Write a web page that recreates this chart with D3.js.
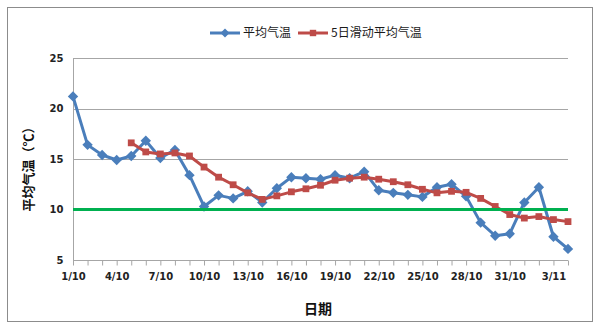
<!DOCTYPE html>
<html><head><meta charset="utf-8">
<script src="https://cdn.jsdelivr.net/npm/d3@7"></script>
<style>html,body{margin:0;padding:0;background:#fff;}svg{display:block;}</style>
</head><body>
<svg id="chart" width="600" height="328"></svg>
<script>
const categories = ["1/10","2/10","3/10","4/10","5/10","6/10","7/10","8/10","9/10","10/10","11/10","12/10","13/10","14/10","15/10","16/10","17/10","18/10","19/10","20/10","21/10","22/10","23/10","24/10","25/10","26/10","27/10","28/10","29/10","30/10","31/10","1/11","2/11","3/11","4/11"];
const avgTemp = [21.2,16.4,15.4,14.9,15.3,16.8,15.1,15.9,13.4,10.3,11.4,11.1,11.8,10.7,12.1,13.2,13.1,13.0,13.4,13.1,13.75,11.9,11.65,11.45,11.25,12.2,12.5,11.3,8.7,7.4,7.6,10.7,12.2,7.3,6.1];
const movingAvg = [null,null,null,null,16.6,15.7,15.5,15.6,15.3,14.2,13.2,12.45,11.65,11.0,11.35,11.75,12.05,12.4,12.9,13.1,13.2,13.0,12.75,12.45,12.0,11.65,11.8,11.7,11.1,10.3,9.5,9.15,9.3,9.0,8.8];
const threshold = 10;
const yTicks = [5,10,15,20,25];
const xTickLabels = categories.filter((d,i)=>i%3===0);
const seriesNames = ["平均气温","5日滑动平均气温"];
const yTitle = "平均气温（℃）";
const xTitle = "日期";

const svg = d3.select("#chart");
const blue = "#4A7EBB", red = "#BE4B48", green = "#00B050";
const tickFont = "'DejaVu Sans', Verdana, sans-serif";
const cjk = "'Noto Sans CJK SC', sans-serif";

svg.append("rect").attr("x",7.5).attr("y",7.5).attr("width",585).attr("height",314)
  .attr("fill","#fff").attr("stroke","#8c8c8c").attr("stroke-width",1);

const x = d3.scalePoint().domain(categories).range([73,568]);
const y = d3.scaleLinear().domain([5,25]).range([260,58]);

// gridlines
svg.append("g").selectAll("line").data(yTicks.filter(d=>d>5)).join("line")
  .attr("x1",73).attr("x2",568)
  .attr("y1",d=>Math.round(y(d))+0.5).attr("y2",d=>Math.round(y(d))+0.5)
  .attr("stroke","#a6a6a6").attr("stroke-width",1);

// y axis
const yAxis = svg.append("g").attr("transform","translate(73.5,0)")
  .call(d3.axisLeft(y).tickValues(yTicks).tickSize(0).tickPadding(10));
yAxis.select(".domain").attr("stroke","#a6a6a6").attr("d","M0,"+(y(25))+"V"+(Math.round(y(5))+0.5));
yAxis.selectAll("text").attr("font-family",tickFont).attr("font-weight","bold")
  .attr("font-size",10).attr("fill","#222");

// x axis
const xAxis = svg.append("g").attr("transform","translate(0,"+(Math.round(y(5))+0.5)+")")
  .call(d3.axisBottom(x).tickSize(5).tickPadding(7)
    .tickFormat(d=>xTickLabels.includes(d)?d:""));
xAxis.select(".domain").attr("stroke","#a6a6a6").attr("d","M73,0H568");
xAxis.selectAll(".tick line").attr("stroke","#a6a6a6");
xAxis.selectAll("text").attr("font-family",tickFont).attr("font-weight","bold")
  .attr("font-size",10).attr("fill","#222");

// lines
const line = d3.line().defined(d=>d.v!=null).x(d=>x(d.c)).y(d=>y(d.v));
const blueData = categories.map((c,i)=>({c,v:avgTemp[i]}));
const redData = categories.map((c,i)=>({c,v:movingAvg[i]}));

const diamond = s => `M0,${-s}L${s},0L0,${s}L${-s},0Z`;
const square = s => `M${-s},${-s}H${s}V${s}H${-s}Z`;

svg.append("path").datum(blueData).attr("d",line).attr("fill","none")
  .attr("stroke",blue).attr("stroke-width",3).attr("stroke-linejoin","round");
svg.append("g").selectAll("path").data(blueData).join("path")
  .attr("transform",d=>`translate(${x(d.c)},${y(d.v)})`).attr("d",diamond(5.2)).attr("fill",blue);

svg.append("path").datum(redData).attr("d",line).attr("fill","none")
  .attr("stroke",red).attr("stroke-width",3).attr("stroke-linejoin","round");
svg.append("g").selectAll("path").data(redData.filter(d=>d.v!=null)).join("path")
  .attr("transform",d=>`translate(${x(d.c)},${y(d.v)})`).attr("d",square(3.4)).attr("fill",red);

// threshold line
svg.append("line").attr("x1",73).attr("x2",568).attr("y1",y(threshold)).attr("y2",y(threshold))
  .attr("stroke",green).attr("stroke-width",3);

// legend
const legend = [{name:seriesNames[0],color:blue,shape:diamond(4.5),x0:210},
                {name:seriesNames[1],color:red,shape:square(3.2),x0:298}];
const lg = svg.append("g");
legend.forEach(l=>{
  lg.append("line").attr("x1",l.x0).attr("x2",l.x0+30).attr("y1",33).attr("y2",33)
    .attr("stroke",l.color).attr("stroke-width",3);
  lg.append("path").attr("transform",`translate(${l.x0+15},33)`).attr("d",l.shape).attr("fill",l.color);
  lg.append("text").attr("x",l.x0+33).attr("y",33).attr("dy","0.35em")
    .attr("font-family",cjk).attr("font-size",12).attr("fill","#1a1a1a").text(l.name);
});

// axis titles
svg.append("text").attr("x",318).attr("y",309).attr("dy","0.35em").attr("text-anchor","middle")
  .attr("font-family",cjk).attr("font-weight","bold").attr("font-size",14).attr("fill","#111").text(xTitle);
svg.append("text").attr("transform","translate(28,166) rotate(-90)").attr("dy","0.35em")
  .attr("text-anchor","middle").attr("font-family",cjk).attr("font-weight","bold")
  .attr("font-size",13).attr("fill","#111").text(yTitle);
</script>
</body></html>
